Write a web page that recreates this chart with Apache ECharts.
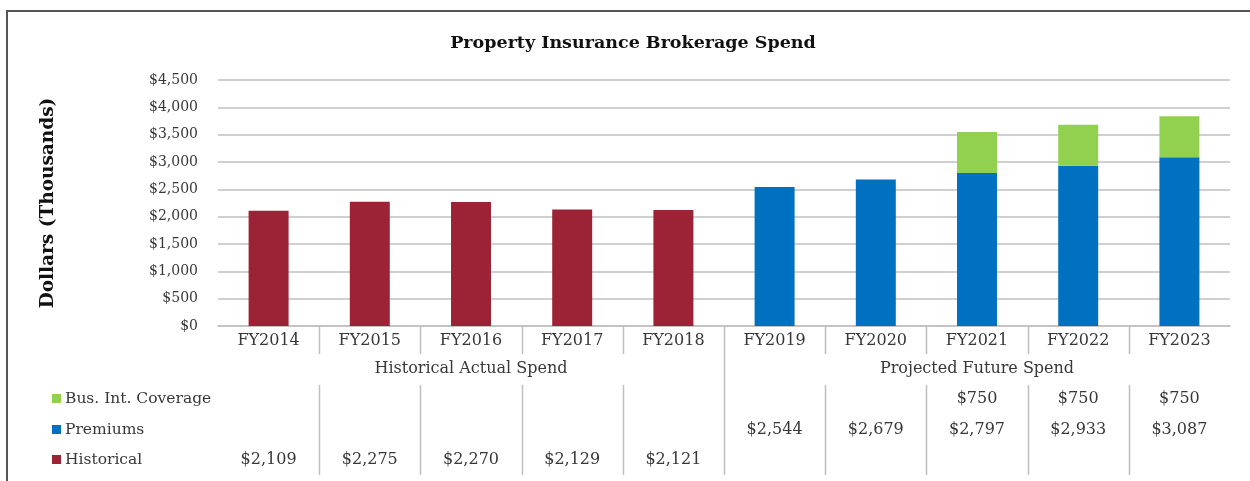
<!DOCTYPE html>
<html>
<head>
<meta charset="utf-8">
<script src="https://cdn.jsdelivr.net/npm/echarts@6/dist/echarts.min.js"></script>
<style>
html,body{margin:0;padding:0;background:#fff;}
#c{width:1250px;height:481px;}
</style>
</head>
<body>
<div id="c"></div>
<script>
const categories = ['FY2014','FY2015','FY2016','FY2017','FY2018','FY2019','FY2020','FY2021','FY2022','FY2023'];
const historical = [2109, 2275, 2270, 2129, 2121, null, null, null, null, null];
const premiums   = [null, null, null, null, null, 2544, 2679, 2797, 2933, 3087];
const busInt     = [null, null, null, null, null, null, null, 750, 750, 750];
const seriesNames = ['Bus. Int. Coverage', 'Premiums', 'Historical'];
const groups = [
  {label: 'Historical Actual Spend', from: 0, to: 4},
  {label: 'Projected Future Spend', from: 5, to: 9}
];
const yTicks = {min: 0, max: 4500, interval: 500};

const FONT = '"DejaVu Serif", serif';
const colors = {bus: '#92D050', prem: '#0070C0', hist: '#9B2335'};
const txt = '#383838';

function money(v){ return '$' + v.toLocaleString('en-US'); }

const chart = echarts.init(document.getElementById('c'), null, {renderer: 'canvas'});
chart.setOption({
  animation: false,
  backgroundColor: '#fff',
  title: {
    text: 'Property Insurance Brokerage Spend',
    left: 628, top: 29, textAlign: 'center',
    textStyle: {fontFamily: FONT, fontSize: 17.5, fontWeight: 'bold', color: '#111'}
  },
  grid: {left: 218, right: 20, top: 80, bottom: 155},
  xAxis: {
    type: 'category', data: categories,
    axisLine: {lineStyle: {color: '#BFBFBF', width: 1.5}},
    axisTick: {show: false},
    axisLabel: {fontFamily: FONT, fontSize: 16, color: txt, margin: 7}
  },
  yAxis: {
    type: 'value', min: yTicks.min, max: yTicks.max, interval: yTicks.interval,
    name: 'Dollars (Thousands)', nameLocation: 'middle', nameGap: 160, nameRotate: 90,
    nameTextStyle: {fontFamily: FONT, fontSize: 18.5, fontWeight: 'bold', color: '#111'},
    axisLine: {show: false}, axisTick: {show: false},
    axisLabel: {fontFamily: FONT, fontSize: 14, color: txt, margin: 20, formatter: v => money(v)},
    splitLine: {lineStyle: {color: '#C0C0C0', width: 1.5}}
  },
  series: [
    {name: seriesNames[2], type: 'bar', stack: 't', data: historical, barWidth: '39.5%', itemStyle: {color: colors.hist}},
    {name: seriesNames[1], type: 'bar', stack: 't', data: premiums, itemStyle: {color: colors.prem}},
    {name: seriesNames[0], type: 'bar', stack: 't', data: busInt, itemStyle: {color: colors.bus}}
  ]
});

// Data table below the chart, positioned with the axis scale
const px = i => chart.convertToPixel({xAxisIndex: 0}, i);
const x0 = px(0), x1 = px(1);
const band = x1 - x0;
const left = x0 - band / 2;
const yAxis0 = chart.convertToPixel({yAxisIndex: 0}, 0);
const rowY = {group: yAxis0 + 43, bus: yAxis0 + 73, prem: yAxis0 + 104, hist: yAxis0 + 134};
const g = [];
const lineStyle = {stroke: '#BFBFBF', lineWidth: 1.5};
for (let i = 1; i < categories.length; i++) {
  const bx = Math.round(left + band * i) + 0.5;
  const isGroupBreak = groups.some(gr => gr.from === i && i > 0);
  if (isGroupBreak) {
    g.push({type: 'line', shape: {x1: bx, y1: yAxis0, x2: bx, y2: yAxis0 + 149}, style: lineStyle, silent: true});
  } else {
    g.push({type: 'line', shape: {x1: bx, y1: yAxis0, x2: bx, y2: yAxis0 + 28}, style: lineStyle, silent: true});
    g.push({type: 'line', shape: {x1: bx, y1: yAxis0 + 59, x2: bx, y2: yAxis0 + 149}, style: lineStyle, silent: true});
  }
}
groups.forEach(gr => {
  const cx = (left + band * gr.from + left + band * (gr.to + 1)) / 2;
  g.push({type: 'text', x: cx, y: rowY.group, style: {text: gr.label, font: '16px ' + FONT, fill: txt, align: 'center', verticalAlign: 'middle'}});
});
const rows = [
  {name: seriesNames[0], data: busInt, y: rowY.bus, color: colors.bus},
  {name: seriesNames[1], data: premiums, y: rowY.prem, color: colors.prem},
  {name: seriesNames[2], data: historical, y: rowY.hist, color: colors.hist}
];
rows.forEach(r => {
  g.push({type: 'rect', shape: {x: 52, y: r.y - 5, width: 9, height: 9}, style: {fill: r.color}});
  g.push({type: 'text', x: 65, y: r.y, style: {text: r.name, font: '15.5px ' + FONT, fill: txt, align: 'left', verticalAlign: 'middle'}});
  r.data.forEach((v, i) => {
    if (v == null) return;
    g.push({type: 'text', x: px(i), y: r.y, style: {text: money(v), font: '16px ' + FONT, fill: txt, align: 'center', verticalAlign: 'middle'}});
  });
});
// outer frame
g.push({type: 'rect', shape: {x: 7, y: 11, width: 1300, height: 600}, style: {fill: null, stroke: '#555', lineWidth: 2}, silent: true});
chart.setOption({graphic: g});
</script>
</body>
</html>
